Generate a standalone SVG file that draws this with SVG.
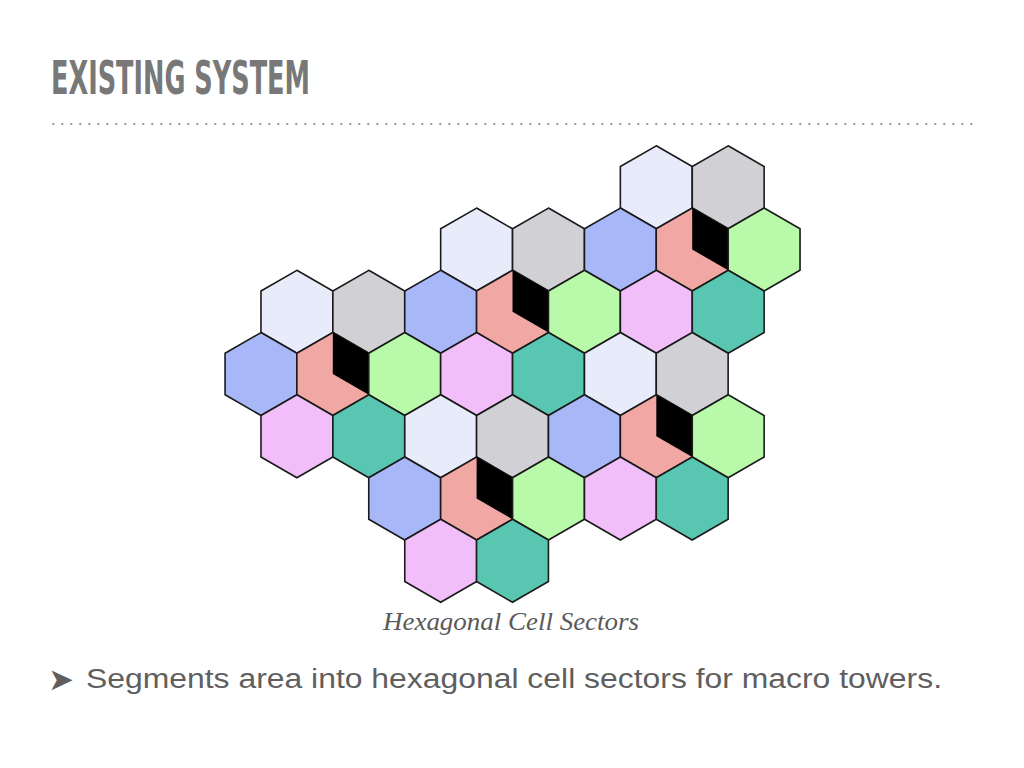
<svg xmlns="http://www.w3.org/2000/svg" xmlns:xlink="http://www.w3.org/1999/xlink" width="1024" height="768" viewBox="0 0 1024 768">
  <style>
    .hex { stroke: #1a1a1a; stroke-width: 1.6; stroke-linejoin: miter; }
    .light { fill: #E8EBF9; }
    .grey { fill: #D1D0D5; }
    .blue { fill: #A8B7F7; }
    .salmon { fill: #F1A8A4; }
    .green { fill: #B9FAAA; }
    .pink { fill: #F1BEF9; }
    .teal { fill: #59C6B1; }
    .sector { fill: #000000; }
    .title { font-family: "DejaVu Sans Condensed", "Liberation Sans Narrow", "Liberation Sans", sans-serif; font-stretch: condensed; font-weight: bold; font-size: 46px; fill: #787878; }
    .caption { font-family: "Liberation Serif", "DejaVu Serif", serif; font-style: italic; font-size: 25px; fill: #5a5a5a; }
    .body { font-family: "Liberation Sans", Arial, sans-serif; font-size: 27px; fill: #5f5f5f; }
    .bullet { font-family: "DejaVu Sans", sans-serif; font-size: 31px; fill: #5f5f5f; }
  </style>
  <defs>
    <polygon id="hexshape" points="0,-41.5 35.94,-20.75 35.94,20.75 0,41.5 -35.94,20.75 -35.94,-20.75"/>
    <polygon id="sectorshape" points="0,-41.5 35.94,-20.75 35.94,20.75 0,0"/>
  </defs>
  <rect width="1024" height="768" fill="#ffffff"/>

  <text class="title" x="51" y="94" textLength="259" lengthAdjust="spacingAndGlyphs">EXISTING SYSTEM</text>
  <line x1="52.3" y1="124" x2="973" y2="124" stroke="#9a9a9a" stroke-width="2" stroke-dasharray="2 7"/>

  <g id="connectors"></g>

  <!-- Row 0 -->
  <g id="r0-light" transform="translate(656.3,187.3)"><use xlink:href="#hexshape" class="hex light"/></g>
  <g id="r0-grey" transform="translate(728.2,187.3)"><use xlink:href="#hexshape" class="hex grey"/></g>
  <!-- Row 1 -->
  <g id="r1-light" transform="translate(476.6,249.55)"><use xlink:href="#hexshape" class="hex light"/></g>
  <g id="r1-grey" transform="translate(548.5,249.55)"><use xlink:href="#hexshape" class="hex grey"/></g>
  <g id="r1-blue" transform="translate(620.4,249.55)"><use xlink:href="#hexshape" class="hex blue"/></g>
  <g id="r1-salmon" transform="translate(692.2,249.55)"><use xlink:href="#hexshape" class="hex salmon"/><use xlink:href="#sectorshape" class="sector"/></g>
  <g id="r1-green" transform="translate(764.1,249.55)"><use xlink:href="#hexshape" class="hex green"/></g>
  <!-- Row 2 -->
  <g id="r2-light" transform="translate(296.9,311.8)"><use xlink:href="#hexshape" class="hex light"/></g>
  <g id="r2-grey" transform="translate(368.8,311.8)"><use xlink:href="#hexshape" class="hex grey"/></g>
  <g id="r2-blue" transform="translate(440.7,311.8)"><use xlink:href="#hexshape" class="hex blue"/></g>
  <g id="r2-salmon" transform="translate(512.5,311.8)"><use xlink:href="#hexshape" class="hex salmon"/><use xlink:href="#sectorshape" class="sector"/></g>
  <g id="r2-green" transform="translate(584.4,311.8)"><use xlink:href="#hexshape" class="hex green"/></g>
  <g id="r2-pink" transform="translate(656.3,311.8)"><use xlink:href="#hexshape" class="hex pink"/></g>
  <g id="r2-teal" transform="translate(728.2,311.8)"><use xlink:href="#hexshape" class="hex teal"/></g>
  <!-- Row 3 -->
  <g id="r3-blue" transform="translate(261,374.05)"><use xlink:href="#hexshape" class="hex blue"/></g>
  <g id="r3-salmon" transform="translate(332.8,374.05)"><use xlink:href="#hexshape" class="hex salmon"/><use xlink:href="#sectorshape" class="sector"/></g>
  <g id="r3-green" transform="translate(404.7,374.05)"><use xlink:href="#hexshape" class="hex green"/></g>
  <g id="r3-pink" transform="translate(476.6,374.05)"><use xlink:href="#hexshape" class="hex pink"/></g>
  <g id="r3-teal" transform="translate(548.5,374.05)"><use xlink:href="#hexshape" class="hex teal"/></g>
  <g id="r3-light" transform="translate(620.4,374.05)"><use xlink:href="#hexshape" class="hex light"/></g>
  <g id="r3-grey" transform="translate(692.2,374.05)"><use xlink:href="#hexshape" class="hex grey"/></g>
  <!-- Row 4 -->
  <g id="r4-pink" transform="translate(296.9,436.3)"><use xlink:href="#hexshape" class="hex pink"/></g>
  <g id="r4-teal" transform="translate(368.8,436.3)"><use xlink:href="#hexshape" class="hex teal"/></g>
  <g id="r4-light" transform="translate(440.7,436.3)"><use xlink:href="#hexshape" class="hex light"/></g>
  <g id="r4-grey" transform="translate(512.5,436.3)"><use xlink:href="#hexshape" class="hex grey"/></g>
  <g id="r4-blue" transform="translate(584.4,436.3)"><use xlink:href="#hexshape" class="hex blue"/></g>
  <g id="r4-salmon" transform="translate(656.3,436.3)"><use xlink:href="#hexshape" class="hex salmon"/><use xlink:href="#sectorshape" class="sector"/></g>
  <g id="r4-green" transform="translate(728.2,436.3)"><use xlink:href="#hexshape" class="hex green"/></g>
  <!-- Row 5 -->
  <g id="r5-blue" transform="translate(404.7,498.55)"><use xlink:href="#hexshape" class="hex blue"/></g>
  <g id="r5-salmon" transform="translate(476.6,498.55)"><use xlink:href="#hexshape" class="hex salmon"/><use xlink:href="#sectorshape" class="sector"/></g>
  <g id="r5-green" transform="translate(548.5,498.55)"><use xlink:href="#hexshape" class="hex green"/></g>
  <g id="r5-pink" transform="translate(620.4,498.55)"><use xlink:href="#hexshape" class="hex pink"/></g>
  <g id="r5-teal" transform="translate(692.2,498.55)"><use xlink:href="#hexshape" class="hex teal"/></g>
  <!-- Row 6 -->
  <g id="r6-pink" transform="translate(440.7,560.8)"><use xlink:href="#hexshape" class="hex pink"/></g>
  <g id="r6-teal" transform="translate(512.5,560.8)"><use xlink:href="#hexshape" class="hex teal"/></g>

  <text class="caption" x="383" y="630" textLength="256" lengthAdjust="spacingAndGlyphs">Hexagonal Cell Sectors</text>

  <text class="bullet" x="48" y="690">➤</text>
  <text class="body" x="86" y="688" textLength="856" lengthAdjust="spacingAndGlyphs">Segments area into hexagonal cell sectors for macro towers.</text>
</svg>
